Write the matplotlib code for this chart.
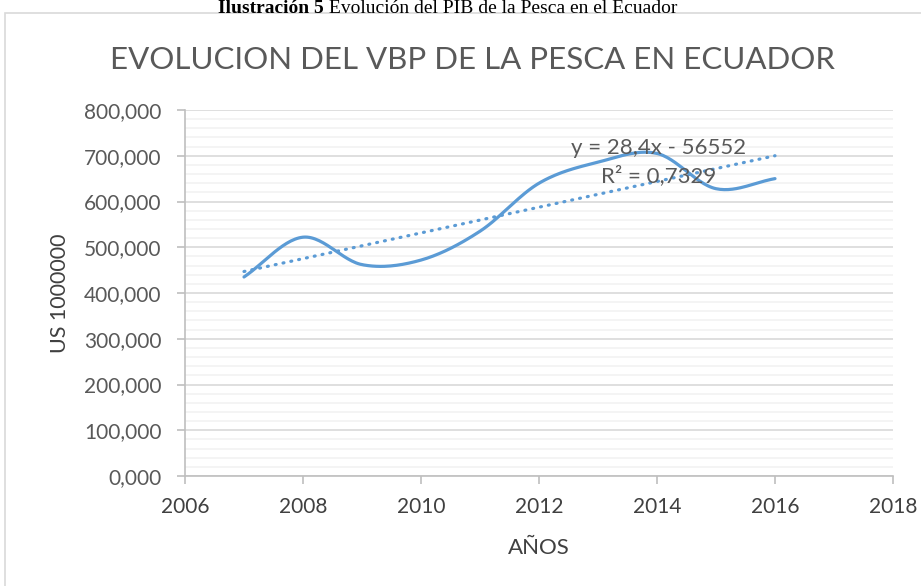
import matplotlib
matplotlib.use("Agg")
import matplotlib.pyplot as plt
import numpy as np
from matplotlib.patches import Rectangle
from matplotlib.ticker import FuncFormatter, MultipleLocator

# Data (VBP de la pesca, US 1000000)
years = [2007, 2008, 2009, 2010, 2011, 2012, 2013, 2014, 2015, 2016]
vbp = [435, 522, 462, 472, 535, 640, 686, 705, 628, 650]

fig_title_bold = "Ilustración 5"
fig_title_rest = " Evolución del PIB de la Pesca en el Ecuador"
chart_title = "EVOLUCION DEL VBP DE LA PESCA EN ECUADOR"
trend_eq = "y = 28,4x - 56552"
trend_r2 = "R² = 0,7329"

BLUE = "#5B9BD5"
GREY_TXT = "#595959"
FONT = "Lato"


def catmull_rom(x, y, n=30):
    """Smooth curve through the points, like Excel's smoothed line."""
    x = np.asarray(x, float)
    y = np.asarray(y, float)
    px = np.concatenate([[2 * x[0] - x[1]], x, [2 * x[-1] - x[-2]]])
    py = np.concatenate([[2 * y[0] - y[1]], y, [2 * y[-1] - y[-2]]])
    t = np.linspace(0, 1, n)
    xs, ys = [], []
    for i in range(1, len(px) - 2):
        for p, out in ((px, xs), (py, ys)):
            p0, p1, p2, p3 = p[i - 1], p[i], p[i + 1], p[i + 2]
            out.append(0.5 * ((2 * p1) + (-p0 + p2) * t
                              + (2 * p0 - 5 * p1 + 4 * p2 - p3) * t ** 2
                              + (-p0 + 3 * p1 - 3 * p2 + p3) * t ** 3))
    return np.concatenate(xs), np.concatenate(ys)


fig = plt.figure(figsize=(9.21, 5.86), dpi=100)
ax = fig.add_axes([185 / 921, 1 - 476 / 586, (893 - 185) / 921, (476 - 110) / 586])

# chart frame
fig.patches.append(Rectangle((5 / 921, -0.05), 1.0, 1 - 13 / 586 + 0.05,
                             transform=fig.transFigure, fill=False,
                             edgecolor="#d9d9d9", linewidth=1.2))

# caption above the chart frame
t1 = fig.text(218 / 921, 1 - 13 / 586, fig_title_bold, family="Liberation Serif",
              weight="bold", fontsize=14, color="black", va="baseline")
fig.canvas.draw()
bb = t1.get_window_extent()
fig.text(bb.x1 / 921, 1 - 13 / 586, fig_title_rest, family="Liberation Serif",
         fontsize=14, color="black", va="baseline")

fig.text(472 / 921, 1 - 60 / 586, chart_title, family=FONT,
         fontsize=22.5, color=GREY_TXT, ha="center", va="center")

# smoothed series
sx, sy = catmull_rom(years, vbp)
ax.plot(sx, sy, color=BLUE, linewidth=2.3, solid_capstyle="round")

# linear trend
coef = np.polyfit(years, vbp, 1)
tx = np.array([years[0], years[-1]])
ax.plot(tx, np.polyval(coef, tx), color=BLUE, linewidth=2.3,
        linestyle=(0, (0.3, 2.2)), dash_capstyle="round")

ax.annotate(trend_eq, xy=(659 / 921, 1 - 148 / 586), xycoords="figure fraction",
            ha="center", va="center", fontsize=16, color=GREY_TXT, family=FONT)
ax.annotate(trend_r2, xy=(659 / 921, 1 - 176 / 586), xycoords="figure fraction",
            ha="center", va="center", fontsize=16, color=GREY_TXT, family=FONT)

ax.set_xlim(2006, 2018)
ax.set_ylim(0, 800)
ax.xaxis.set_major_locator(MultipleLocator(2))
ax.yaxis.set_major_locator(MultipleLocator(100))
ax.yaxis.set_minor_locator(MultipleLocator(20))
ax.yaxis.set_major_formatter(FuncFormatter(lambda v, p: f"{v:.3f}".replace(".", ",")))
ax.xaxis.set_major_formatter(FuncFormatter(lambda v, p: f"{int(v)}"))

ax.grid(axis="y", which="major", color="#d9d9d9", linewidth=1.2)
ax.grid(axis="y", which="minor", color="#f2f2f2", linewidth=1.2)
ax.grid(axis="x", visible=False)
ax.set_axisbelow(True)

for side in ("top", "right"):
    ax.spines[side].set_visible(False)
for side in ("left", "bottom"):
    ax.spines[side].set_color("#bfbfbf")
    ax.spines[side].set_linewidth(1.2)

ax.tick_params(axis="both", which="major", color="#bfbfbf", length=6, width=1.2,
               labelcolor=GREY_TXT, labelsize=15)
ax.tick_params(axis="y", pad=11)
ax.tick_params(axis="x", pad=9, labelcolor="#404040")
ax.tick_params(axis="y", which="minor", length=0)
for lab in ax.get_xticklabels() + ax.get_yticklabels():
    lab.set_family(FONT)

ax.set_xlabel("AÑOS", family=FONT, fontsize=16, color="#404040", labelpad=15)
ax.set_ylabel("US 1000000", family=FONT, fontsize=15.5, color="#404040", labelpad=10)

fig.savefig("out.png", dpi=100)
